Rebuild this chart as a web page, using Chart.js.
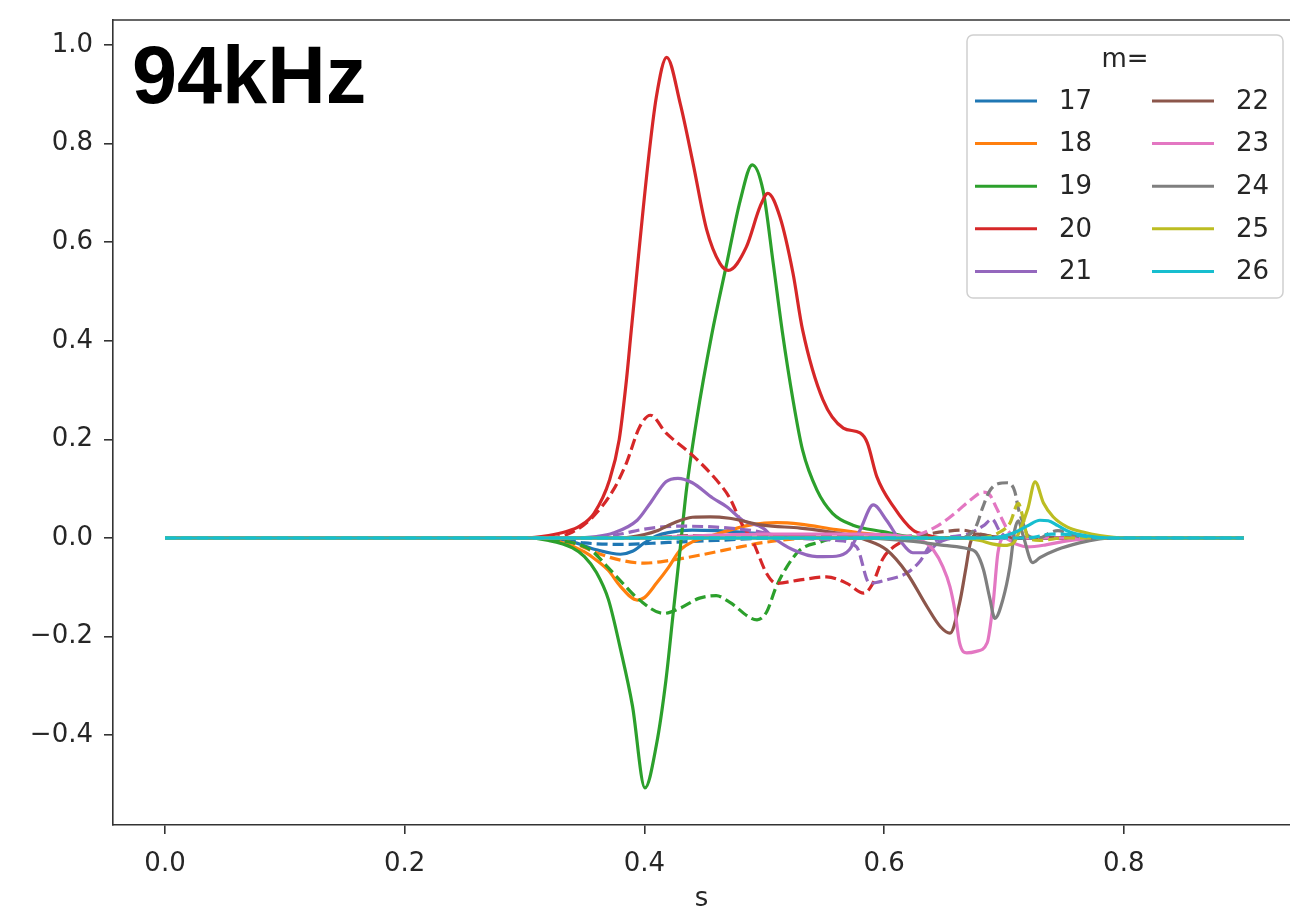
<!DOCTYPE html>
<html>
<head>
<meta charset="utf-8">
<script src="https://cdn.jsdelivr.net/npm/chart.js@4.4.1/dist/chart.umd.min.js"></script>
<style>
  html, body { margin: 0; padding: 0; background: #fff; overflow: hidden; }
  canvas { display: block; }
</style>
</head>
<body>
<canvas id="chart" width="1290" height="908"></canvas>
<script>
// azimuthal mode numbers and their line colours
var mValues = [17, 18, 19, 20, 21, 22, 23, 24, 25, 26];
var lineColors = ['#1f77b4', '#ff7f0e', '#2ca02c', '#d62728', '#9467bd',
                  '#8c564b', '#e377c2', '#7f7f7f', '#bcbd22', '#17becf'];
var freqLabel = '94kHz';
var xTicks = [0.0, 0.2, 0.4, 0.6, 0.8];
var yTicks = [-0.4, -0.2, 0.0, 0.2, 0.4, 0.6, 0.8, 1.0];

// [s, value] samples, solid curves
var solid17 = [[0,0],[0.32,0],[0.34,-0.008],[0.36,-0.024],[0.38,-0.033],[0.39,-0.027],[0.40,-0.01],[0.41,0.004],[0.42,0.011],[0.44,0.016],[0.46,0.015],[0.50,0.008],[0.54,0.002],[0.57,0],[0.9,0]];
var solid18 = [[0,0],[0.31,0],[0.33,-0.008],[0.35,-0.028],[0.36,-0.045],[0.37,-0.066],[0.38,-0.098],[0.394,-0.126],[0.40,-0.121],[0.41,-0.092],[0.42,-0.06],[0.43,-0.024],[0.44,-0.008],[0.45,0],[0.47,0.015],[0.49,0.027],[0.51,0.031],[0.53,0.028],[0.56,0.017],[0.60,0.005],[0.63,0],[0.9,0]];
var solid19 = [[0,0],[0.30,0],[0.32,-0.005],[0.34,-0.02],[0.35,-0.038],[0.36,-0.07],[0.37,-0.125],[0.38,-0.225],[0.39,-0.34],[0.4005,-0.507],[0.41,-0.42],[0.418,-0.288],[0.424,-0.153],[0.4297,-0.025],[0.4352,0.10],[0.4436,0.24],[0.456,0.41],[0.469,0.56],[0.48,0.685],[0.49,0.757],[0.499,0.705],[0.5075,0.557],[0.515,0.42],[0.524,0.28],[0.532,0.178],[0.544,0.097],[0.557,0.05],[0.574,0.026],[0.599,0.013],[0.62,0.003],[0.64,0],[0.9,0]];
var solid20 = [[0,0],[0.30,0],[0.32,0.005],[0.335,0.013],[0.346,0.024],[0.358,0.05],[0.371,0.118],[0.379,0.2],[0.385,0.32],[0.389,0.42],[0.403,0.76],[0.41,0.895],[0.4186,0.975],[0.43,0.88],[0.4406,0.76],[0.452,0.625],[0.463,0.557],[0.47,0.543],[0.485,0.59],[0.4965,0.672],[0.503,0.699],[0.513,0.652],[0.524,0.537],[0.532,0.422],[0.549,0.28],[0.566,0.223],[0.58,0.213],[0.586,0.193],[0.594,0.124],[0.608,0.063],[0.624,0.016],[0.636,0.006],[0.65,0],[0.9,0]];
var solid21 = [[0,0],[0.34,0],[0.36,0.003],[0.374,0.01],[0.394,0.036],[0.405,0.071],[0.418,0.114],[0.428,0.121],[0.44,0.112],[0.457,0.081],[0.469,0.063],[0.482,0.036],[0.499,0.02],[0.507,0.002],[0.524,-0.024],[0.544,-0.038],[0.56,-0.037],[0.571,-0.024],[0.58,0.016],[0.591,0.067],[0.602,0.036],[0.613,-0.004],[0.624,-0.03],[0.635,-0.03],[0.645,-0.01],[0.66,0],[0.9,0]];
var solid22 = [[0,0],[0.38,0],[0.40,0.007],[0.41,0.014],[0.424,0.03],[0.44,0.042],[0.455,0.043],[0.471,0.04],[0.499,0.026],[0.53,0.02],[0.55,0.014],[0.57,0.006],[0.585,-0.004],[0.602,-0.024],[0.619,-0.071],[0.636,-0.14],[0.647,-0.18],[0.655,-0.193],[0.663,-0.132],[0.668,-0.065],[0.672,-0.01],[0.677,0.008],[0.69,0.003],[0.71,0],[0.9,0]];
var solid23 = [[0,0],[0.40,0],[0.44,0.004],[0.50,0.008],[0.58,0.008],[0.62,0.002],[0.635,-0.01],[0.641,-0.024],[0.649,-0.058],[0.655,-0.099],[0.659,-0.146],[0.663,-0.213],[0.669,-0.233],[0.677,-0.23],[0.686,-0.213],[0.691,-0.132],[0.695,-0.03],[0.70,0],[0.71,-0.012],[0.72,-0.018],[0.735,-0.014],[0.75,-0.007],[0.77,-0.002],[0.79,0],[0.9,0]];
var solid24 = [[0,0],[0.58,0],[0.62,-0.006],[0.65,-0.015],[0.67,-0.022],[0.677,-0.03],[0.683,-0.065],[0.688,-0.12],[0.6925,-0.163],[0.699,-0.126],[0.705,-0.058],[0.709,0.016],[0.712,0.035],[0.716,0.005],[0.724,-0.05],[0.73,-0.04],[0.744,-0.024],[0.763,-0.01],[0.78,-0.002],[0.79,0],[0.9,0]];
var solid25 = [[0,0],[0.66,0],[0.68,-0.005],[0.69,-0.012],[0.70,-0.015],[0.708,-0.01],[0.714,0.02],[0.72,0.06],[0.726,0.114],[0.733,0.071],[0.741,0.043],[0.753,0.022],[0.766,0.012],[0.78,0.005],[0.80,0],[0.9,0]];
var solid26 = [[0,0],[0.69,0],[0.70,0.004],[0.71,0.012],[0.72,0.025],[0.73,0.036],[0.737,0.035],[0.745,0.025],[0.755,0.012],[0.77,0.004],[0.79,0],[0.9,0]];

// [s, value] samples, dashed curves
var dashed17 = [[0,0],[0.32,0],[0.35,-0.01],[0.38,-0.013],[0.42,-0.009],[0.46,-0.005],[0.51,0],[0.9,0]];
var dashed18 = [[0,0],[0.31,0],[0.34,-0.01],[0.36,-0.03],[0.38,-0.045],[0.40,-0.051],[0.42,-0.046],[0.45,-0.033],[0.48,-0.018],[0.50,-0.009],[0.54,0],[0.9,0]];
var dashed19 = [[0,0],[0.31,0],[0.33,-0.005],[0.355,-0.024],[0.369,-0.058],[0.382,-0.092],[0.396,-0.126],[0.416,-0.153],[0.43,-0.142],[0.446,-0.122],[0.46,-0.117],[0.471,-0.13],[0.494,-0.166],[0.502,-0.15],[0.51,-0.099],[0.519,-0.058],[0.53,-0.024],[0.547,-0.008],[0.56,0],[0.9,0]];
var dashed20 = [[0,0],[0.32,0],[0.34,0.012],[0.357,0.043],[0.374,0.097],[0.385,0.152],[0.396,0.225],[0.405,0.249],[0.418,0.213],[0.44,0.168],[0.46,0.118],[0.471,0.082],[0.481,0.03],[0.491,-0.01],[0.502,-0.072],[0.51,-0.092],[0.53,-0.085],[0.552,-0.079],[0.569,-0.092],[0.583,-0.112],[0.59,-0.095],[0.599,-0.042],[0.608,-0.018],[0.62,-0.003],[0.63,0],[0.9,0]];
var dashed21 = [[0,0],[0.35,0],[0.38,0.008],[0.40,0.018],[0.43,0.024],[0.46,0.022],[0.49,0.015],[0.52,0.001],[0.56,-0.005],[0.577,-0.018],[0.588,-0.092],[0.602,-0.085],[0.619,-0.071],[0.63,-0.047],[0.64,-0.01],[0.65,0],[0.67,0.008],[0.683,0.025],[0.69,0.038],[0.697,0.012],[0.705,0],[0.9,0]];
var dashed22 = [[0,0],[0.40,0],[0.44,0.005],[0.50,0.005],[0.56,0.003],[0.60,0.002],[0.63,0.006],[0.65,0.013],[0.665,0.016],[0.68,0.008],[0.70,0],[0.9,0]];
var dashed23 = [[0,0],[0.60,0],[0.62,0.003],[0.63,0.008],[0.645,0.025],[0.66,0.052],[0.672,0.077],[0.683,0.093],[0.688,0.088],[0.693,0.065],[0.697,0.045],[0.705,0.01],[0.715,0],[0.9,0]];
var dashed24 = [[0,0],[0.66,0],[0.67,0.005],[0.677,0.025],[0.682,0.06],[0.688,0.095],[0.695,0.11],[0.703,0.112],[0.709,0.095],[0.712,0.06],[0.716,0.03],[0.72,0.005],[0.73,0],[0.738,0.01],[0.745,0.015],[0.755,0.008],[0.77,0],[0.9,0]];
var dashed25 = [[0,0],[0.68,0],[0.695,0.01],[0.705,0.03],[0.712,0.07],[0.716,0.04],[0.72,0],[0.73,-0.005],[0.75,0],[0.9,0]];
var dashed26 = [[0,0],[0.72,0],[0.74,0.008],[0.76,0.006],[0.78,0],[0.9,0]];

var solidSeries = [solid17, solid18, solid19, solid20, solid21, solid22, solid23, solid24, solid25, solid26];
var dashedSeries = [dashed17, dashed18, dashed19, dashed20, dashed21, dashed22, dashed23, dashed24, dashed25, dashed26];

var axisColor = '#333333';
var textColor = '#262626';
var tickFont = { family: '"DejaVu Sans", sans-serif', size: 26 };

function makeLine(samples, color, dash) {
	return {
		data: samples.map(function (p) { return { x: p[0], y: p[1] }; }),
		borderColor: color,
		borderWidth: 3.2,
		borderDash: dash,
		borderCapStyle: 'butt',
		borderJoinStyle: 'round',
		pointRadius: 0,
		fill: false,
		cubicInterpolationMode: 'monotone'
	};
}

var datasets = [];
mValues.forEach(function (m, i) {
	datasets.push(makeLine(solidSeries[i], lineColors[i], []));
	datasets.push(makeLine(dashedSeries[i], lineColors[i], [11, 5]));
});
// later series are painted over earlier ones
datasets.forEach(function (ds, i) { ds.order = datasets.length - i; });

function fmtTick(v) {
	return Number(v).toFixed(1).replace('-', '\u2212');
}

function roundRect(ctx, x, y, w, h, r) {
	ctx.beginPath();
	ctx.moveTo(x + r, y);
	ctx.lineTo(x + w - r, y);
	ctx.arcTo(x + w, y, x + w, y + r, r);
	ctx.lineTo(x + w, y + h - r);
	ctx.arcTo(x + w, y + h, x + w - r, y + h, r);
	ctx.lineTo(x + r, y + h);
	ctx.arcTo(x, y + h, x, y + h - r, r);
	ctx.lineTo(x, y + r);
	ctx.arcTo(x, y, x + r, y, r);
	ctx.closePath();
}

// top spine, frequency tag and the two-column legend
var frameAndLegend = {
	id: 'frameAndLegend',
	afterDraw: function (chart) {
		var ctx = chart.ctx;
		var area = chart.chartArea;
		ctx.save();

		ctx.strokeStyle = axisColor;
		ctx.lineWidth = 1.6;
		ctx.beginPath();
		ctx.moveTo(area.left, area.top);
		ctx.lineTo(chart.width, area.top);
		ctx.stroke();

		ctx.fillStyle = '#000';
		ctx.font = 'bold 81px "Liberation Sans", Arial, sans-serif';
		ctx.textAlign = 'left';
		ctx.textBaseline = 'alphabetic';
		ctx.fillText(freqLabel, 132, 103);

		var box = { x: 967, y: 35, w: 316, h: 263 };
		roundRect(ctx, box.x, box.y, box.w, box.h, 6);
		ctx.fillStyle = 'rgba(255,255,255,0.85)';
		ctx.fill();
		ctx.strokeStyle = '#d0d0d0';
		ctx.lineWidth = 1.5;
		ctx.stroke();

		ctx.font = '26px "DejaVu Sans", sans-serif';
		ctx.fillStyle = textColor;
		ctx.textAlign = 'center';
		ctx.textBaseline = 'middle';
		ctx.fillText('m=', 1125, 60);

		ctx.textAlign = 'left';
		ctx.lineWidth = 3;
		mValues.forEach(function (m, i) {
			var col = Math.floor(i / 5);
			var row = i % 5;
			var y = 101 + row * 42.6;
			var x0 = col === 0 ? 975 : 1152;
			ctx.strokeStyle = lineColors[i];
			ctx.beginPath();
			ctx.moveTo(x0, y);
			ctx.lineTo(x0 + 62, y);
			ctx.stroke();
			ctx.fillStyle = textColor;
			ctx.fillText(String(m), x0 + 84, y + 1);
		});

		ctx.restore();
	}
};

new Chart(document.getElementById('chart'), {
	type: 'line',
	data: { datasets: datasets },
	options: {
		responsive: false,
		animation: false,
		events: [],
		layout: { padding: { top: 20, right: 0, left: 0, bottom: 0 } },
		plugins: { legend: { display: false }, tooltip: { enabled: false } },
		scales: {
			x: {
				type: 'linear',
				min: -0.0434,
				max: 0.9387,
				afterBuildTicks: function (scale) {
					scale.ticks = xTicks.map(function (v) { return { value: v }; });
				},
				afterFit: function (scale) {
					scale.height = 83;
					scale.paddingLeft = 0;
					scale.paddingRight = 0;
				},
				grid: { drawOnChartArea: false, drawTicks: true, tickLength: 9, color: axisColor, lineWidth: 1.6 },
				border: { display: true, color: axisColor, width: 1.6 },
				ticks: { autoSkip: false, maxRotation: 0, padding: 15, color: textColor, font: tickFont, callback: fmtTick },
				title: { display: true, text: 's', color: textColor, font: tickFont, padding: { top: 0, bottom: -7 } }
			},
			y: {
				type: 'linear',
				min: -0.5822,
				max: 1.0507,
				afterBuildTicks: function (scale) {
					scale.ticks = yTicks.map(function (v) { return { value: v }; });
				},
				afterFit: function (scale) {
					scale.width = 113;
					scale.paddingTop = 0;
					scale.paddingBottom = 0;
				},
				grid: { drawOnChartArea: false, drawTicks: true, tickLength: 9, color: axisColor, lineWidth: 1.6 },
				border: { display: true, color: axisColor, width: 1.6 },
				ticks: { autoSkip: false, padding: 11, color: textColor, font: tickFont, callback: fmtTick }
			}
		}
	},
	plugins: [frameAndLegend]
});
</script>
</body>
</html>
